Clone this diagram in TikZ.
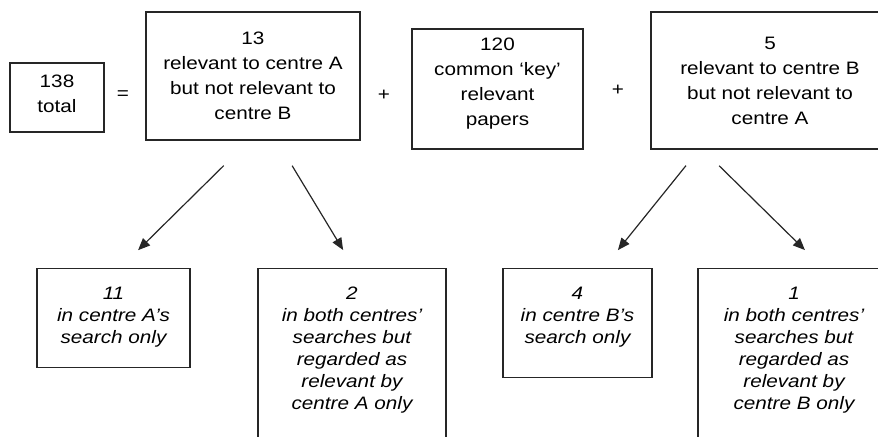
\documentclass[tikz,border=0pt]{standalone}
\usepackage{fontspec}
\setmainfont{Liberation Sans}[FakeStretch=1.15]
\usetikzlibrary{arrows.meta}
\tikzset{sumbox/.style={draw=black!85, line width=0.7pt, align=center, inner sep=2pt, font=\fontsize{9}{12.5}\selectfont},
    splitbox/.style={sumbox, anchor=north, inner ysep=9pt, font=\fontsize{9}{11}\selectfont\itshape},
    sign/.style={font=\fontsize{9}{11}\selectfont},
    arr/.style={draw=black!85, line width=0.6pt, -{Triangle[length=6pt,width=5pt]}}}

\begin{document}
\begin{tikzpicture}[x=0.5pt,y=-0.5pt]
    \useasboundingbox (0,0) rectangle (878,436);
    \clip (0,0) rectangle (878,436);
    % top row
    \node[sumbox, minimum width=47pt, minimum height=34.5pt, text depth=4pt] (total) at (57,97.5) {138\\total};
    \node[sign] (eq) at (123,95) {=};
    \node[sumbox, minimum width=107pt, minimum height=64pt] (onlyA) at (253,76) {13\\relevant to centre A\\but not relevant to\\centre B};
    \node[sign] (plusA) at (384,95) {+};
    \node[sumbox, minimum width=85.5pt, minimum height=60pt, text depth=7pt] (common) at (497.5,89) {120\\common ‘key’\\relevant\\papers};
    \node[sign] (plusB) at (618,90) {+};
    \node[sumbox, minimum width=119pt, minimum height=68.5pt] (onlyB) at (770,80.5) {5\\relevant to centre B\\but not relevant to\\centre A};
    % bottom row
    \node[splitbox, minimum width=76.5pt, text depth=3.1pt] (searchA) at (113.5,268) {11\\in centre A’s\\search only};
    \node[splitbox, minimum width=94pt, text depth=30pt] (judgedA) at (352,268) {2\\in both centres’\\searches but\\regarded as\\relevant by\\centre A only};
    \node[splitbox, minimum width=74.5pt, text depth=8.1pt] (searchB) at (577.5,268) {4\\in centre B’s\\search only};
    \node[splitbox, minimum width=96pt, text depth=30pt] (judgedB) at (794,268) {1\\in both centres’\\searches but\\regarded as\\relevant by\\centre B only};
    % arrows
    \draw[arr, shorten <=17.7pt, shorten >=12.7pt] ([xshift=-2pt]onlyA.south) -- ([xshift=3.25pt]searchA.north);
    \draw[arr, shorten <=14.6pt, shorten >=10.5pt] ([xshift=12pt]onlyA.south) -- ([xshift=1pt]judgedA.north);
    \draw[arr, shorten <=10.2pt, shorten >=11.5pt] ([xshift=-35.6pt]onlyB.south) -- ([xshift=13pt]searchB.north);
    \draw[arr, shorten <=11.4pt, shorten >=12.8pt] ([xshift=-33.6pt]onlyB.south) -- ([xshift=14.6pt]judgedB.north);
\end{tikzpicture}
\end{document}
